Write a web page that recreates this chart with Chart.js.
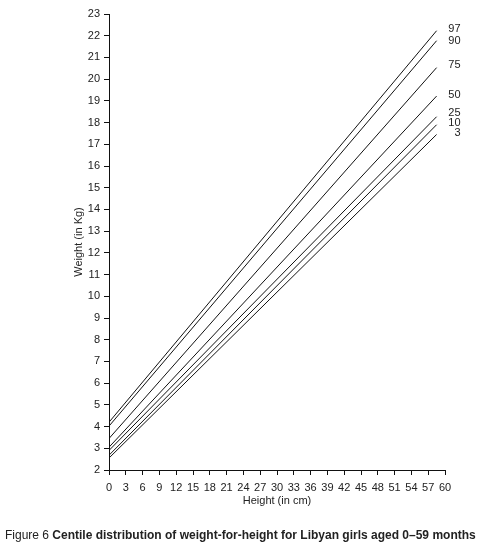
<!DOCTYPE html>
<html>
<head>
<meta charset="utf-8">
<script src="https://cdn.jsdelivr.net/npm/chart.js@4"></script>
<style>
  body { margin: 0; background: #fff; }
  #wrap { position: relative; width: 485px; height: 547px; }
  #caption { position: absolute; left: 5px; top: 528px; font: 12px "Liberation Sans", Arial, sans-serif; color: #222; white-space: nowrap; }
  #caption b { font-weight: bold; }
</style>
</head>
<body>
<div id="wrap">
  <canvas id="growthChart" width="485" height="547"></canvas>
  <div id="caption">Figure 6 <b>Centile distribution of weight-for-height for Libyan girls aged 0–59 months</b></div>
</div>
<script>
// heights at which each centile line starts and ends
var heights = [0, 58.5];

var centiles = ["97", "90", "75", "50", "25", "10", "3"];
var weightsAtStart = [4.2, 4.02, 3.45, 3.05, 2.9, 2.68, 2.55];
var weightsAtEnd = [22.23, 21.77, 20.53, 19.22, 18.27, 17.9, 17.45];
// where the centile labels sit on the weight axis
var labelWeights = [22.31, 21.76, 20.65, 19.27, 18.44, 17.98, 17.52];

var datasets = [];
for (var i = 0; i < centiles.length; i++) {
    datasets.push({
        label: centiles[i],
        data: [
            {x: heights[0], y: weightsAtStart[i]},
            {x: heights[1], y: weightsAtEnd[i]}
        ],
        borderColor: "#111",
        borderWidth: 1,
        pointRadius: 0,
        fill: false
    });
}

// writes the centile numbers at the right end of the lines
var centileLabels = {
    id: "centileLabels",
    afterDatasetsDraw: function(chart) {
        var ctx = chart.ctx;
        var xs = chart.scales.x;
        var ys = chart.scales.y;
        ctx.save();
        ctx.font = "11px 'Liberation Sans', Arial, sans-serif";
        ctx.fillStyle = "#222";
        ctx.textAlign = "right";
        ctx.textBaseline = "middle";
        for (var i = 0; i < centiles.length; i++) {
            ctx.fillText(centiles[i], xs.getPixelForValue(heights[1]) + 24, ys.getPixelForValue(labelWeights[i]));
        }
        ctx.restore();
    }
};

var tickFont = {family: "'Liberation Sans', Arial, sans-serif", size: 11};

new Chart(document.getElementById("growthChart"), {
    type: "line",
    data: {datasets: datasets},
    plugins: [centileLabels],
    options: {
        responsive: false,
        animation: false,
        layout: {padding: {left: 68, right: 40, top: 14, bottom: 39}},
        plugins: {
            legend: {display: false},
            tooltip: {enabled: false}
        },
        scales: {
            x: {
                type: "linear",
                min: 0,
                max: 60,
                afterFit: function(scale) { scale.height = 38; },
                ticks: {stepSize: 3, color: "#222", font: tickFont, padding: 6, maxRotation: 0, autoSkip: false},
                grid: {drawOnChartArea: false, drawTicks: true, tickLength: 5, color: "#111"},
                border: {display: true, color: "#111", width: 1},
                title: {display: true, text: "Height (in cm)", color: "#222", font: tickFont, padding: {top: 0, bottom: 0}}
            },
            y: {
                type: "linear",
                min: 2,
                max: 23,
                afterFit: function(scale) { scale.width = 41; },
                ticks: {stepSize: 1, color: "#222", font: tickFont, padding: 4, autoSkip: false},
                grid: {drawOnChartArea: false, drawTicks: true, tickLength: 5, color: "#111"},
                border: {display: true, color: "#111", width: 1},
                title: {display: true, text: "Weight (in Kg)", color: "#222", font: tickFont, padding: {top: 4, bottom: 0}}
            }
        }
    }
});
</script>
</body>
</html>
